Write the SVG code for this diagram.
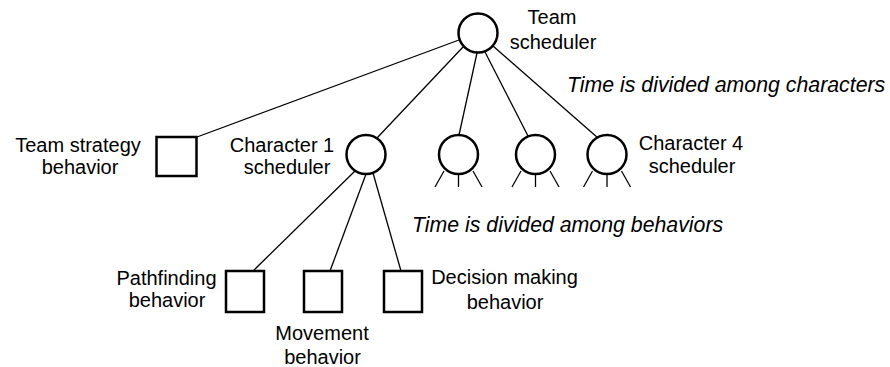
<svg xmlns="http://www.w3.org/2000/svg" width="890" height="367" viewBox="0 0 890 367">
<style>
text{font-family:"Liberation Sans",Arial,Helvetica,sans-serif;font-size:20px;fill:#000;}
.m{text-anchor:middle;}
.i{font-style:italic;font-size:21.3px;}
.node{fill:#fff;stroke:#000;stroke-width:2.5;}
.edge{stroke:#000;stroke-width:1.3;fill:none;}
</style>
<rect width="890" height="367" fill="#fff"/>
<g id="connectors">
<line class="edge" x1="459" y1="40" x2="197" y2="137"/>
<line class="edge" x1="463" y1="47" x2="377" y2="138"/>
<line class="edge" x1="477" y1="53" x2="459" y2="135"/>
<line class="edge" x1="485" y1="52" x2="528" y2="136"/>
<line class="edge" x1="493" y1="46" x2="598" y2="138"/>
<line class="edge" x1="355" y1="171" x2="253" y2="271"/>
<line class="edge" x1="366" y1="174" x2="330" y2="271"/>
<line class="edge" x1="373" y1="173" x2="401" y2="271"/>
<g id="legs">
<line class="edge" x1="444" y1="171" x2="435" y2="187"/>
<line class="edge" x1="458.5" y1="174" x2="458.5" y2="187"/>
<line class="edge" x1="473" y1="171" x2="482" y2="187"/>
<line class="edge" x1="521" y1="171" x2="512" y2="187"/>
<line class="edge" x1="535.5" y1="174" x2="535.5" y2="187"/>
<line class="edge" x1="550" y1="171" x2="559" y2="187"/>
<line class="edge" x1="592.5" y1="171" x2="583.5" y2="187"/>
<line class="edge" x1="607" y1="174" x2="607" y2="187"/>
<line class="edge" x1="621.5" y1="171" x2="630.5" y2="187"/>
</g>
</g>
<g id="team-scheduler">
<circle class="node" cx="478" cy="33" r="19.5"/>
<text class="m" x="552" y="24">Team</text>
<text class="m" x="553" y="49">scheduler</text>
</g>
<text class="i" x="567" y="92">Time is divided among characters</text>
<g id="team-strategy">
<rect class="node" x="156.5" y="137" width="40" height="39"/>
<text class="m" x="78" y="152">Team strategy</text>
<text class="m" x="80" y="174">behavior</text>
</g>
<g id="character1">
<circle class="node" cx="366" cy="154.5" r="19.5"/>
<text class="m" x="282" y="152">Character 1</text>
<text class="m" x="287" y="174">scheduler</text>
</g>
<g id="character2">
<circle class="node" cx="458.5" cy="154.5" r="19.5"/>
</g>
<g id="character3">
<circle class="node" cx="535.5" cy="154.5" r="19.5"/>
</g>
<g id="character4">
<circle class="node" cx="607" cy="154.5" r="19.5"/>
<text class="m" x="691" y="150">Character 4</text>
<text class="m" x="692" y="173">scheduler</text>
</g>
<text class="i" x="412" y="232">Time is divided among behaviors</text>
<g id="pathfinding">
<rect class="node" x="226" y="271" width="38" height="41"/>
<text class="m" x="166.5" y="285">Pathfinding</text>
<text class="m" x="167" y="307">behavior</text>
</g>
<g id="movement">
<rect class="node" x="304" y="271" width="38" height="41"/>
<text class="m" x="322" y="340">Movement</text>
<text class="m" x="322.5" y="364">behavior</text>
</g>
<g id="decision">
<rect class="node" x="384" y="271" width="38" height="41"/>
<text class="m" x="504.5" y="284">Decision making</text>
<text class="m" x="505" y="309">behavior</text>
</g>
</svg>
